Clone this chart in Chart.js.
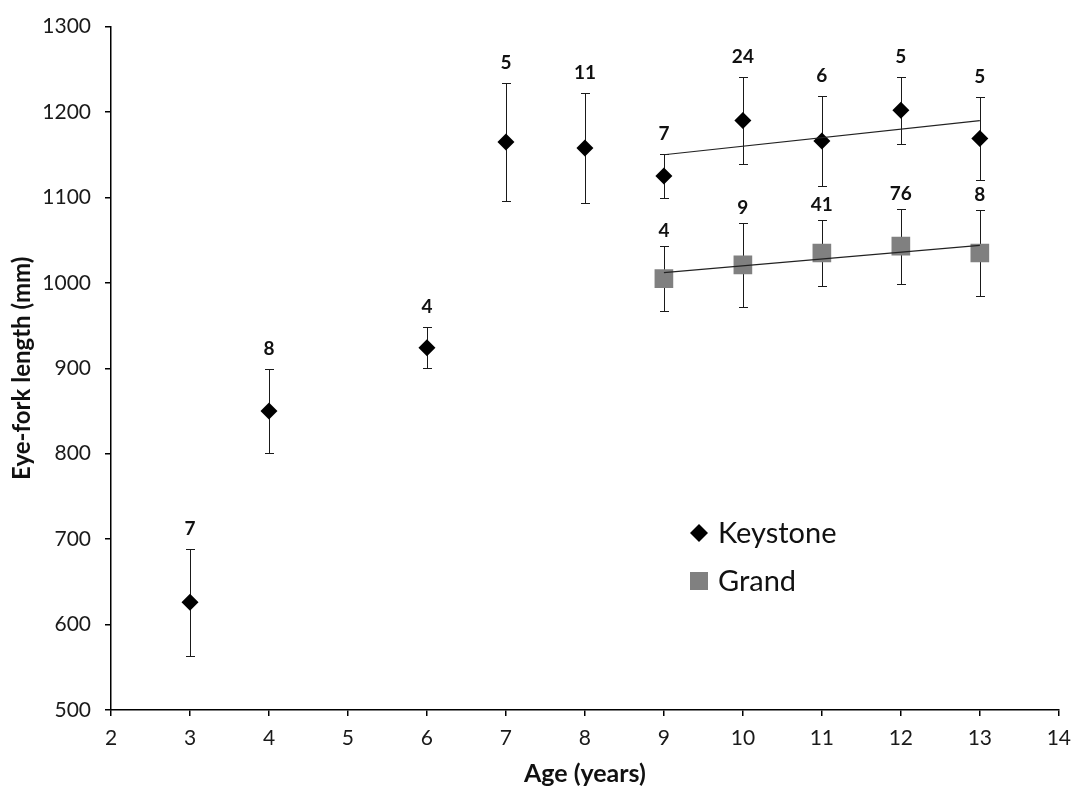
<!DOCTYPE html>
<html>
<head>
<meta charset="utf-8">
<title>Eye-fork length by age</title>
<script src="https://cdn.jsdelivr.net/npm/chart.js@4.4.1/dist/chart.umd.min.js"></script>
<style>
  html, body { margin: 0; padding: 0; background: #fff; }
  canvas { display: block; }
</style>
</head>
<body>
<canvas id="chart" width="1081" height="794"></canvas>
<script>
// Keystone: mean length, +/- error and sample size per age
const keystoneAges = [3, 4, 6, 7, 8, 9, 10, 11, 12, 13];
const keystoneMean = [626, 850, 924, 1165, 1158, 1125, 1190, 1166, 1202, 1169];
const keystoneErr  = [63, 49, 24, 69, 64, 26, 51, 53, 39, 49];
const keystoneN    = [7, 8, 4, 5, 11, 7, 24, 6, 5, 5];

// Grand
const grandAges = [9, 10, 11, 12, 13];
const grandMean = [1005, 1021, 1035, 1043, 1035];
const grandErr  = [38, 49, 39, 44, 50];
const grandN    = [4, 9, 41, 76, 8];

// linear trend lines over ages 9-13
const trendAges     = [9, 13];
const keystoneTrend = [1150, 1190];
const grandTrend    = [1012, 1044];

const FONT = 'Lato, "Open Sans", sans-serif';
const pts = (xs, ys) => xs.map((x, i) => ({ x, y: ys[i] }));

// vertical error bars with caps, drawn under the markers
const errorBars = {
    id: 'errorBars',
    beforeDatasetsDraw(chart) {
        const { ctx, scales: { x, y } } = chart;
        ctx.save();
        ctx.strokeStyle = '#1a1a1a';
        ctx.lineWidth = 1;
        chart.data.datasets.forEach(ds => {
            if (!ds.err) return;
            ds.data.forEach((p, i) => {
                const px = Math.round(x.getPixelForValue(p.x)) + 0.5;
                const top = Math.round(y.getPixelForValue(p.y + ds.err[i])) + 0.5;
                const bot = Math.round(y.getPixelForValue(p.y - ds.err[i])) + 0.5;
                ctx.beginPath();
                ctx.moveTo(px, top); ctx.lineTo(px, bot);
                ctx.moveTo(px - 4.5, top); ctx.lineTo(px + 4.5, top);
                ctx.moveTo(px - 4.5, bot); ctx.lineTo(px + 4.5, bot);
                ctx.stroke();
            });
        });
        ctx.restore();
    }
};

// sample sizes above each error bar
const countLabels = {
    id: 'countLabels',
    afterDatasetsDraw(chart) {
        const { ctx, scales: { x, y } } = chart;
        ctx.save();
        ctx.font = 'bold 19px ' + FONT;
        ctx.fillStyle = '#111';
        ctx.textAlign = 'center';
        ctx.textBaseline = 'middle';
        chart.data.datasets.forEach(ds => {
            if (!ds.n) return;
            ds.data.forEach((p, i) => {
                const top = y.getPixelForValue(p.y + ds.err[i]);
                ctx.fillText(String(ds.n[i]), x.getPixelForValue(p.x), top - ds.labelGap);
            });
        });
        ctx.restore();
    }
};

// legend box inside the plot
const legendBox = {
    id: 'legendBox',
    afterDraw(chart) {
        const { ctx } = chart;
        const items = chart.data.datasets.filter(ds => ds.n);
        const lx = 699, ly = 533, rowH = 48;
        ctx.save();
        ctx.font = '29px ' + FONT;
        ctx.textAlign = 'left';
        ctx.textBaseline = 'alphabetic';
        items.forEach((ds, i) => {
            const cy = ly + i * rowH;
            ctx.fillStyle = ds.backgroundColor;
            ctx.beginPath();
            if (ds.pointStyle === 'rectRot') {
                ctx.moveTo(lx - 9, cy); ctx.lineTo(lx, cy - 9);
                ctx.lineTo(lx + 9, cy); ctx.lineTo(lx, cy + 9);
                ctx.closePath();
            } else {
                ctx.rect(lx - 9, cy - 9, 18, 18);
            }
            ctx.fill();
            ctx.fillStyle = '#111';
            ctx.fillText(ds.label, lx + 19, cy + 10);
        });
        ctx.restore();
    }
};

const axisCommon = {
    border: { display: true, color: '#000', width: 1.5 },
    grid: { drawOnChartArea: false, drawTicks: true, tickLength: 6, color: '#000', lineWidth: 1.5 },
};

new Chart(document.getElementById('chart'), {
    type: 'scatter',
    data: {
        datasets: [
            {
                label: 'Keystone',
                data: pts(keystoneAges, keystoneMean),
                err: keystoneErr, n: keystoneN, labelGap: 20,
                pointStyle: 'rectRot', pointRadius: 8.5, pointHoverRadius: 8.5,
                backgroundColor: '#000', borderColor: '#000', borderWidth: 0,
                order: 2
            },
            {
                label: 'Grand',
                data: pts(grandAges, grandMean),
                err: grandErr, n: grandN, labelGap: 15,
                pointStyle: 'rect', pointRadius: 13.2, pointHoverRadius: 13.2,
                backgroundColor: '#808080', borderColor: '#808080', borderWidth: 0,
                order: 2
            },
            {
                type: 'line', label: 'Keystone trend',
                data: pts(trendAges, keystoneTrend),
                borderColor: '#222', borderWidth: 1.2, pointRadius: 0, fill: false,
                order: 0
            },
            {
                type: 'line', label: 'Grand trend',
                data: pts(trendAges, grandTrend),
                borderColor: '#222', borderWidth: 1.2, pointRadius: 0, fill: false,
                order: 0
            }
        ]
    },
    options: {
        responsive: false,
        animation: false,
        layout: { padding: { top: 19, right: 19, left: 0, bottom: 0 } },
        plugins: { legend: { display: false }, tooltip: { enabled: false } },
        scales: {
            x: {
                ...axisCommon,
                type: 'linear', min: 2, max: 14,
                afterFit: s => { s.height = 84; },
                ticks: { stepSize: 1, color: '#1a1a1a', padding: 10, font: { family: FONT, size: 21 },
                         callback: v => String(v) },
                title: { display: true, text: 'Age (years)', color: '#111',
                         font: { family: FONT, size: 25, weight: 'bold' }, padding: { top: 0, bottom: 5 } }
            },
            y: {
                ...axisCommon,
                min: 500, max: 1300,
                afterFit: s => { s.width = 111; },
                ticks: { stepSize: 100, color: '#1a1a1a', padding: 14, font: { family: FONT, size: 21 },
                         callback: v => String(v) },
                title: { display: true, text: 'Eye-fork length (mm)', color: '#111',
                         font: { family: FONT, size: 24, weight: 'bold' }, padding: { top: 8, bottom: 0 } }
            }
        }
    },
    plugins: [errorBars, countLabels, legendBox]
});
</script>
</body>
</html>
